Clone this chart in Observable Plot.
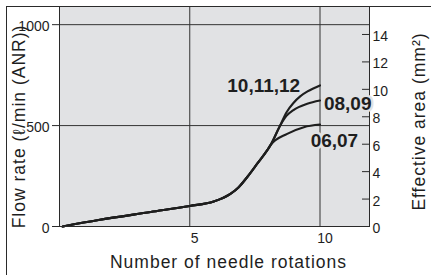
<!DOCTYPE html>
<html><head><meta charset="utf-8">
<script src="https://cdn.jsdelivr.net/npm/d3@7"></script>
<script src="https://cdn.jsdelivr.net/npm/@observablehq/plot@0.6"></script>
<style>
html,body{margin:0;padding:0;background:#fff;}
#wrap{position:relative;width:431px;height:275px;overflow:hidden;}
#wrap svg{position:absolute;left:0;top:0;}
#border{position:absolute;left:6px;top:6px;right:-10px;bottom:-10px;border-left:1px solid #2a2a2a;border-top:1px solid #2a2a2a;pointer-events:none;}
</style></head><body><div id="wrap"></div>
<script>
// ---- data ----
const seriesNames = ["06,07", "08,09", "10,11,12"];
const baseRot  = [0.12, 1.5, 3.5, 5.0, 5.92, 6.56, 6.88, 7.2, 7.59, 7.97, 8.1];
const baseFlow = [0, 32, 72, 102, 124, 162, 195, 244, 311, 377, 403];
const sharedRot  = [8.45];
const sharedFlow = [495];
const rot0607  = [8.74, 9.38, 10];
const flow0607 = [459, 492, 505];
const rot0809  = [8.71, 8.98, 9.51, 10];
const flow0809 = [548, 577, 608, 624];
const rot1012  = [8.71, 8.98, 9.25, 9.52, 10];
const flow1012 = [565, 612, 646, 669, 699];

const labelNames = ["10,11,12", "08,09", "06,07"];
const labelRot   = [6.44, 10.15, 9.64];
const labelFlow  = [665, 578, 396];

const xTicks = [5, 10];
const yTicks = [0, 500, 1000];
const areaTicks = [0, 2, 4, 6, 8, 10, 12, 14];

const xTitle = "Number of needle rotations";
const yTitle = "Flow rate (ℓ/min (ANR))";
const y2Title = "Effective area (mm²)";

const X_MAX = 11.9, Y_MAX = 1090, AREA_MAX = 16.04;

// ---- build table ----
const k = Y_MAX / AREA_MAX;
const rows = [];
function addSeries(name, rs, fs) {
  rs.forEach((r, i) => rows.push({series: name, rot: r, flow: fs[i]}));
}
addSeries("06,07", baseRot.concat(rot0607), baseFlow.concat(flow0607));
addSeries("08,09", baseRot.concat(sharedRot, rot0809), baseFlow.concat(sharedFlow, flow0809));
addSeries("10,11,12", baseRot.concat(sharedRot, rot1012), baseFlow.concat(sharedFlow, flow1012));
const labels = labelNames.map((n, i) => ({name: n, rot: labelRot[i], flow: labelFlow[i]}));
const areaAsFlow = areaTicks.map(v => v * k);

const ink = "#1e1e1e";
const bg = "#e1e2e4";

const plot = Plot.plot({
  width: 431, height: 275,
  marginLeft: 59, marginRight: 62, marginTop: 6, marginBottom: 49,
  style: {fontFamily: "'Liberation Sans', Arial, sans-serif", fontSize: "14px", color: ink, background: "transparent", overflow: "visible"},
  x: {domain: [0, X_MAX]},
  y: {domain: [0, Y_MAX]},
  marks: [
    Plot.frame({fill: bg}),
    Plot.gridX(xTicks, {stroke: "#333", strokeOpacity: 1}),
    Plot.gridY(yTicks.filter(d => d > 0), {stroke: "#333", strokeOpacity: 1}),
    Plot.line(rows, {x: "rot", y: "flow", z: "series", curve: "monotone-x", stroke: ink, strokeWidth: 2.1}),
    Plot.frame({stroke: "#2a2a2a"}),
    Plot.text(labels, {x: "rot", y: "flow", text: "name", textAnchor: "start", lineAnchor: "bottom",
      fontSize: 19, fontWeight: "bold", fill: ink, stroke: bg, strokeWidth: 5}),
    // left axis
    Plot.axisY(yTicks, {anchor: "left", tickSize: 7, fill: "none", label: null, stroke: "#2a2a2a"}),
    Plot.axisY(yTicks, {anchor: "left", tickSize: 0, tickPadding: 10, dy: 2, label: null, fontSize: 14,
      tickFormat: d => String(d)}),
    // bottom axis
    Plot.axisX(xTicks, {anchor: "bottom", tickSize: 0, tickPadding: 7, dx: 5, label: null, fontSize: 14,
      tickFormat: d => String(d)}),
    // right axis (effective area)
    Plot.axisY(areaAsFlow, {anchor: "right", tickSize: -8, fill: "none", label: null, stroke: "#2a2a2a"}),
    Plot.axisY(areaAsFlow, {anchor: "right", tickSize: 0, tickPadding: 3, dy: 2, label: null, fontSize: 14,
      tickFormat: d => String(Math.round(d / k))}),
    // titles
    Plot.text([xTitle], {frameAnchor: "bottom", text: d => d, textAnchor: "middle", lineAnchor: "bottom", dy: 41, dx: 14, fontSize: 17.5, fill: ink}),
    Plot.text([yTitle], {frameAnchor: "left", text: d => d, textAnchor: "middle", rotate: -90, lineAnchor: "bottom", dx: -35, dy: 10, fontSize: 17.5, fill: ink}),
    Plot.text([y2Title], {frameAnchor: "right", text: d => d, textAnchor: "middle", rotate: -90, lineAnchor: "bottom", dx: 55.5, dy: 5, fontSize: 17.5, fill: ink})
  ]
});
const wrap = document.getElementById("wrap");
wrap.appendChild(plot);
const border = document.createElement("div");
border.id = "border";
wrap.appendChild(border);
const titles = [xTitle, yTitle, y2Title];
plot.querySelectorAll("text").forEach(t => {
  if (titles.includes(t.textContent)) t.setAttribute("letter-spacing", "1");
});
</script>
</body></html>
